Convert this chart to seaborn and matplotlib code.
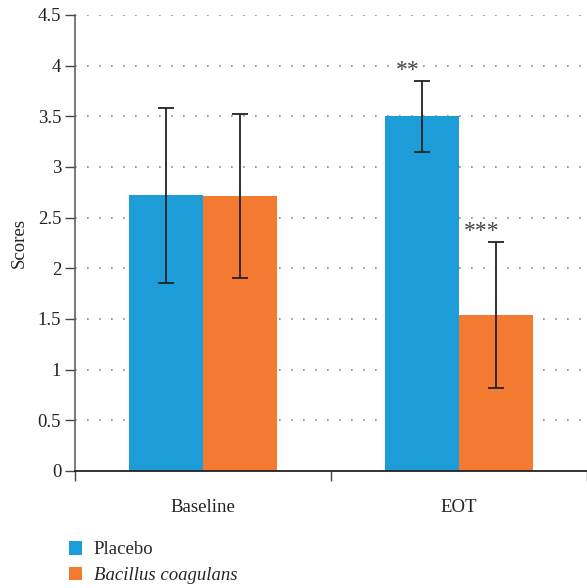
import numpy as np
import pandas as pd
import matplotlib.pyplot as plt
import seaborn as sns
from matplotlib.patches import Patch

# data
timepoints = ["Baseline", "EOT"]
groups = ["Placebo", "Bacillus coagulans"]
placebo_mean = [2.72, 3.50]
placebo_sd = [0.86, 0.35]
bc_mean = [2.71, 1.54]
bc_sd = [0.81, 0.72]
stars = {("EOT", "Placebo"): "**", ("EOT", "Bacillus coagulans"): "***"}

blue = "#1d9dd7"
orange = "#f37a30"

df = pd.DataFrame({
    "time": timepoints * 2,
    "group": [groups[0]] * 2 + [groups[1]] * 2,
    "score": placebo_mean + bc_mean,
    "sd": placebo_sd + bc_sd,
})

sns.set_style("white")
plt.rcParams['font.family'] = ['Liberation Serif', 'DejaVu Serif']
fs = 13.5

fig = plt.figure(figsize=(5.87, 5.88), dpi=100)
ax = fig.add_axes([0.128, 0.199, 0.872, 0.7755])

sns.barplot(data=df, x="time", y="score", hue="group", palette=[blue, orange],
            width=0.58, gap=0, errorbar=None, saturation=1, ax=ax, zorder=2,
            legend=False, linewidth=0)

# error bars + significance stars
for cont, g in zip(ax.containers, groups):
    sub = df[df.group == g]
    for bar, (_, row) in zip(cont, sub.iterrows()):
        xc = bar.get_x() + bar.get_width() / 2
        ax.errorbar(xc, row.score, yerr=row.sd, fmt="none", ecolor="#222222",
                    elinewidth=1.3, capsize=6, capthick=1.3, zorder=3)
        s = stars.get((row.time, g))
        if s:
            ax.text(xc - 0.055, row.score + row.sd + 0.1, s, ha="center",
                    va="center", fontsize=17, color="#444444")

# axes decorations
ax.set_xlim(-0.5, 1.5)
ax.set_ylim(0, 4.5)
yt = np.arange(0, 4.51, 0.5)
ax.set_yticks(yt)
ax.set_yticklabels([f"{v:g}" for v in yt], fontsize=fs, color="#222222")
ax.set_xticks([0, 1])
ax.set_xticklabels(timepoints, fontsize=fs, color="#222222")
ax.tick_params(axis="x", length=0, pad=20)
ax.tick_params(axis="y", direction="out", length=7, width=1, color="#444444", left=True, pad=3)
ax.set_xticks([-0.5, 0.5, 1.5], minor=True)
ax.tick_params(axis="x", which="minor", direction="out", length=7, width=1,
               color="#444444", bottom=True)
ax.set_xlabel("")
ax.set_ylabel("Scores", fontsize=fs, color="#222222", labelpad=7)

ax.yaxis.grid(True, linestyle=(0, (1, 6.2)), color="#888888", linewidth=1.2, zorder=0)
ax.set_axisbelow(True)
sns.despine(ax=ax, top=True, right=True)
ax.spines["left"].set_color("#555555")
ax.spines["bottom"].set_color("#222222")
ax.spines["left"].set_linewidth(1.1)
ax.spines["bottom"].set_linewidth(1.3)

# legend below
handles = [Patch(facecolor=blue, edgecolor="none"), Patch(facecolor=orange, edgecolor="none")]
leg = fig.legend(handles, groups, loc="upper left", bbox_to_anchor=(0.105, 0.093),
                 frameon=False, fontsize=fs, handlelength=0.7, handleheight=0.75,
                 labelspacing=0.45, handletextpad=0.6, borderaxespad=0)
leg.get_texts()[1].set_fontstyle("italic")

fig.savefig("out.png", dpi=100)
